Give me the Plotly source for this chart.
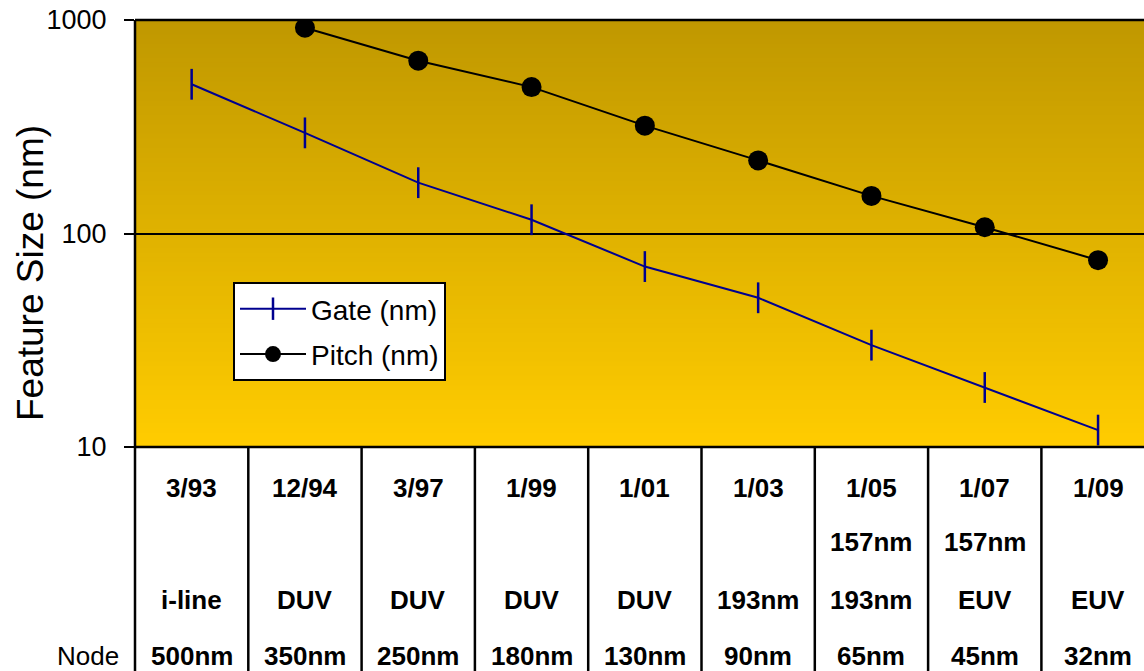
import plotly.graph_objects as go

# ---- data ----
dates = ["3/93", "12/94", "3/97", "1/99", "1/01", "1/03", "1/05", "1/07", "1/09"]
litho_alt = ["", "", "", "", "", "", "157nm", "157nm", ""]
litho = ["i-line", "DUV", "DUV", "DUV", "DUV", "193nm", "193nm", "EUV", "EUV"]
nodes = ["500nm", "350nm", "250nm", "180nm", "130nm", "90nm", "65nm", "45nm", "32nm"]
gate_nm = [500, 296, 173, 116, 70, 50, 30, 19, 12]
pitch_nm = [None, 920, 645, 485, 320, 220, 150, 107, 75]
y_ticks = [10, 100, 1000]

FONT = "Liberation Sans, Arial, sans-serif"
W, H = 1144, 671
ML, MR, MT, MB = 135, 0, 20, 224
PW, PH = W - ML - MR, H - MT - MB
ncat = len(dates)
x_lo = -0.5
x_hi = x_lo + PW / 113.3

fig = go.Figure()
fig.add_trace(go.Scatter(
    x=list(range(ncat)), y=gate_nm, name="Gate (nm)", mode="lines+markers",
    legendgroup="g", line=dict(color="#00008f", width=2),
    marker=dict(symbol="line-ns-open", size=22, line=dict(color="#00008f", width=2.5)),
))
fig.add_trace(go.Scatter(
    x=list(range(ncat)), y=pitch_nm, name="Pitch (nm)", mode="lines+markers",
    legendgroup="p", line=dict(color="black", width=2),
    marker=dict(symbol="circle", size=20, color="black"),
    connectgaps=False,
))

shapes = []
# vertical gradient background
top = (192, 152, 0)
bot = (255, 204, 0)
N = 90
for k in range(N):
    t = k / (N - 1)
    c = tuple(round(bot[i] + (top[i] - bot[i]) * t) for i in range(3))
    shapes.append(dict(type="rect", xref="paper", yref="paper", x0=0, x1=1,
                       y0=k / N, y1=min(1, (k + 1.6) / N), line=dict(width=0),
                       fillcolor="rgb(%d,%d,%d)" % c, layer="below"))

ybot = -(MB + 10) / PH
# frame lines
shapes.append(dict(type="line", xref="paper", yref="paper", x0=0, x1=1, y0=1, y1=1,
                   line=dict(color="black", width=2.5), layer="above"))
shapes.append(dict(type="line", xref="paper", yref="paper", x0=0, x1=1, y0=0, y1=0,
                   line=dict(color="black", width=2.5), layer="above"))
shapes.append(dict(type="line", xref="paper", yref="paper", x0=0, x1=0, y0=1, y1=ybot,
                   line=dict(color="black", width=2.5), layer="above"))
for i in range(ncat - 1):
    xp = (i + 0.5 - x_lo) / (x_hi - x_lo)
    shapes.append(dict(type="line", xref="paper", yref="paper", x0=xp, x1=xp, y0=0, y1=ybot,
                       line=dict(color="black", width=2.5), layer="above"))

annotations = []
rows = [(dates, 488), (litho_alt, 542), (litho, 600), (nodes, 656)]
for labels, py in rows:
    for i, lab in enumerate(labels):
        if not lab:
            continue
        annotations.append(dict(x=i, xref="x", y=0, yref="paper", yshift=-(py - (MT + PH)),
                                text="<b>%s</b>" % lab, showarrow=False, xanchor="center",
                                yanchor="middle", font=dict(family=FONT, size=26, color="black")))
annotations.append(dict(x=0, xref="paper", xshift=-(ML - 121), y=0, yref="paper",
                        yshift=-(656 - (MT + PH)), text="Node", showarrow=False,
                        xanchor="right", yanchor="middle",
                        font=dict(family=FONT, size=26, color="black")))
annotations.append(dict(x=0, xref="paper", xshift=-(ML - 30), y=0.5, yref="paper",
                        yshift=-(273 - (MT + PH / 2)), text="Feature Size (nm)",
                        textangle=-90, showarrow=False, xanchor="center", yanchor="middle",
                        font=dict(family=FONT, size=37, color="black")))

fig.update_layout(
    width=W, height=H, autosize=False,
    margin=dict(l=ML, r=MR, t=MT, b=MB, pad=0),
    paper_bgcolor="white", plot_bgcolor="rgba(0,0,0,0)",
    showlegend=True,
    legend=dict(x=(233 - ML) / PW, y=(MT + PH - 282) / PH, xanchor="left", yanchor="top",
                bgcolor="white", bordercolor="black", borderwidth=2,
                itemwidth=66, tracegroupgap=6,
                font=dict(family=FONT, size=28, color="black")),
    xaxis=dict(range=[x_lo, x_hi], showticklabels=False, showgrid=False, zeroline=False,
               ticks="", showline=False, fixedrange=True),
    yaxis=dict(type="log", range=[1, 3], tickvals=y_ticks, ticktext=[str(v) for v in y_ticks],
               ticks="outside", ticklen=10, tickwidth=2, tickcolor="black",
               showgrid=True, gridcolor="black", gridwidth=2,
               showline=False, zeroline=False, ticklabelstandoff=12,
               tickfont=dict(family=FONT, size=27, color="black")),
    shapes=shapes, annotations=annotations,
)

fig.write_html("out.html", config={"displayModeBar": False},
               post_script="document.body.style.margin='0';document.body.style.overflow='hidden';")
